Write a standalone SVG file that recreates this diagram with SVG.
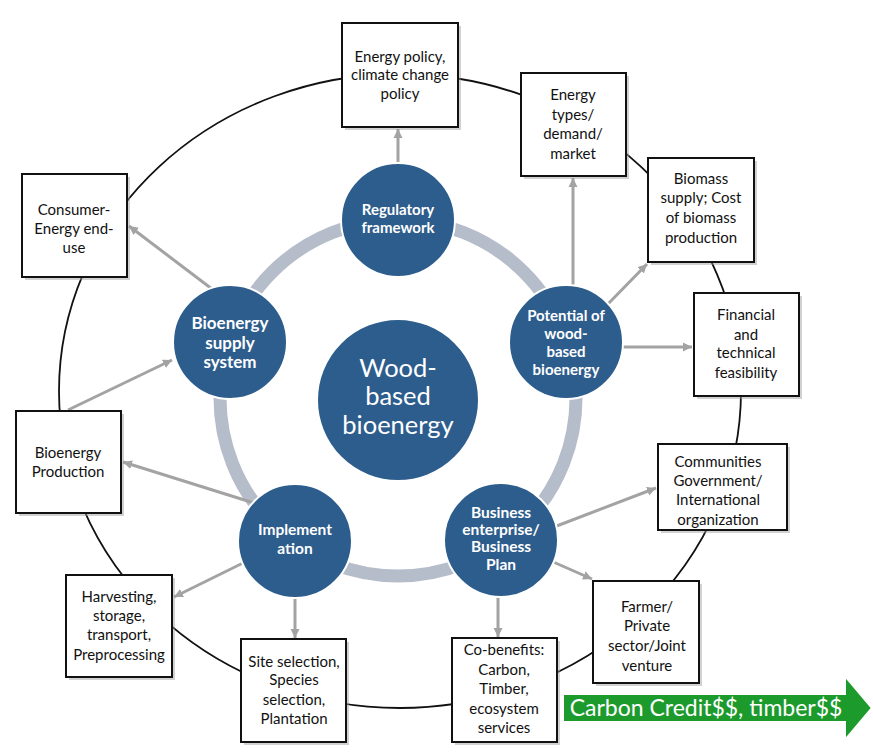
<svg xmlns="http://www.w3.org/2000/svg" width="873" height="753" viewBox="0 0 873 753">
<defs>
<marker id="ah" markerUnits="userSpaceOnUse" markerWidth="10" markerHeight="10" refX="9" refY="5" orient="auto">
<path d="M0,0.5 L9,5 L0,9.5 z" fill="#a3a3a3"/>
</marker>
</defs>
<style>
.bx{fill:#fff;stroke:#111;stroke-width:2}
.sh{fill:#9a9a9a;opacity:0.45}
.bt{font-family:Lato,"Open Sans","Liberation Sans",sans-serif;font-size:15px;fill:#111;text-anchor:middle}
.cc{fill:#2d5d8c;stroke:#fff;stroke-width:2}
.ct{font-family:Lato,"Open Sans","Liberation Sans",sans-serif;font-weight:bold;fill:#fff;text-anchor:middle}
.ar{stroke:#a3a3a3;stroke-width:3;fill:none;marker-end:url(#ah)}
</style>
<rect width="873" height="753" fill="#fff"/>
<g id="connectors">
<ellipse cx="400" cy="391" rx="341" ry="317" fill="none" stroke="#111" stroke-width="1.8"/>
<circle cx="398" cy="398" r="178" fill="none" stroke="#b6bdca" stroke-width="13"/>
<line class="ar" x1="398" y1="166" x2="398" y2="129"/>
<line class="ar" x1="573" y1="288" x2="573" y2="178"/>
<line class="ar" x1="606" y1="306" x2="647" y2="264"/>
<line class="ar" x1="620" y1="347" x2="692" y2="347"/>
<line class="ar" x1="554" y1="527" x2="656" y2="488"/>
<line class="ar" x1="551" y1="561" x2="592" y2="579"/>
<line class="ar" x1="498" y1="594" x2="498" y2="637"/>
<line class="ar" x1="295" y1="596" x2="295" y2="638"/>
<line class="ar" x1="245" y1="562" x2="174" y2="597"/>
<line class="ar" x1="254" y1="503" x2="123" y2="462"/>
<line class="ar" x1="68" y1="410" x2="172" y2="360"/>
<line class="ar" x1="212" y1="289" x2="129" y2="226"/>
</g>
<g id="center">
<circle class="cc" cx="398" cy="400" r="81"/>
<text class="ct" font-size="25.5" style="font-weight:normal"><tspan x="398" y="377">Wood-</tspan><tspan x="398" y="405">based</tspan><tspan x="398" y="434">bioenergy</tspan></text>
</g>
<g id="regulatory">
<circle class="cc" cx="398" cy="220" r="57"/>
<text class="ct" font-size="15"><tspan x="398" y="215">Regulatory</tspan><tspan x="398" y="233">framework</tspan></text>
</g>
<g id="potential">
<circle class="cc" cx="566" cy="342" r="57"/>
<text class="ct" font-size="15"><tspan x="566" y="321">Potential of</tspan><tspan x="566" y="339">wood-</tspan><tspan x="566" y="357">based</tspan><tspan x="566" y="375">bioenergy</tspan></text>
</g>
<g id="business">
<circle class="cc" cx="501" cy="540" r="57"/>
<text class="ct" font-size="15.5"><tspan x="501" y="518">Business</tspan><tspan x="501" y="535">enterprise/</tspan><tspan x="501" y="552">Business</tspan><tspan x="501" y="570">Plan</tspan></text>
</g>
<g id="implementation">
<circle class="cc" cx="295" cy="541" r="57"/>
<text class="ct" font-size="15.5"><tspan x="295" y="535">Implement</tspan><tspan x="295" y="554">ation</tspan></text>
</g>
<g id="supply">
<circle class="cc" cx="230" cy="342" r="57"/>
<text class="ct" font-size="17"><tspan x="230" y="329">Bioenergy</tspan><tspan x="230" y="349">supply</tspan><tspan x="230" y="368">system</tspan></text>
</g>
<g id="b1">
<rect class="sh" x="345" y="26" width="116" height="104"/>
<rect class="bx" x="342" y="23" width="116" height="104"/>
<text class="bt"><tspan x="400" y="62">Energy policy,</tspan><tspan x="400" y="80">climate change</tspan><tspan x="400" y="99">policy</tspan></text>
</g>
<g id="b2">
<rect class="sh" x="524" y="76" width="105" height="103"/>
<rect class="bx" x="521" y="73" width="105" height="103"/>
<text class="bt"><tspan x="573" y="100">Energy</tspan><tspan x="573" y="120">types/</tspan><tspan x="573" y="139">demand/</tspan><tspan x="573" y="159">market</tspan></text>
</g>
<g id="b3">
<rect class="sh" x="651" y="161" width="106" height="104"/>
<rect class="bx" x="648" y="158" width="106" height="104"/>
<text class="bt"><tspan x="701" y="184">Biomass</tspan><tspan x="701" y="203">supply; Cost</tspan><tspan x="701" y="223">of biomass</tspan><tspan x="701" y="243">production</tspan></text>
</g>
<g id="b4">
<rect class="sh" x="697" y="296" width="105" height="103"/>
<rect class="bx" x="694" y="293" width="105" height="103"/>
<text class="bt"><tspan x="746" y="320">Financial</tspan><tspan x="746" y="340">and</tspan><tspan x="746" y="358">technical</tspan><tspan x="746" y="378">feasibility</tspan></text>
</g>
<g id="b5">
<rect class="sh" x="661" y="447" width="129" height="86"/>
<rect class="bx" x="658" y="444" width="129" height="86"/>
<text class="bt"><tspan x="718" y="467">Communities</tspan><tspan x="718" y="486">Government/</tspan><tspan x="718" y="505">International</tspan><tspan x="718" y="525">organization</tspan></text>
</g>
<g id="b6">
<rect class="sh" x="596" y="584" width="106" height="102"/>
<rect class="bx" x="593" y="581" width="106" height="102"/>
<text class="bt"><tspan x="647" y="612">Farmer/</tspan><tspan x="647" y="631">Private</tspan><tspan x="647" y="651">sector/Joint</tspan><tspan x="647" y="671">venture</tspan></text>
</g>
<g id="b7">
<rect class="sh" x="455" y="641" width="105" height="104"/>
<rect class="bx" x="452" y="638" width="105" height="104"/>
<text class="bt"><tspan x="504" y="655">Co-benefits:</tspan><tspan x="504" y="675">Carbon,</tspan><tspan x="504" y="694">Timber,</tspan><tspan x="504" y="714">ecosystem</tspan><tspan x="504" y="733">services</tspan></text>
</g>
<g id="b8">
<rect class="sh" x="244" y="642" width="105" height="103"/>
<rect class="bx" x="241" y="639" width="105" height="103"/>
<text class="bt"><tspan x="294" y="667">Site selection,</tspan><tspan x="294" y="685">Species</tspan><tspan x="294" y="705">selection,</tspan><tspan x="294" y="724">Plantation</tspan></text>
</g>
<g id="b9">
<rect class="sh" x="69" y="578" width="106" height="102"/>
<rect class="bx" x="66" y="575" width="106" height="102"/>
<text class="bt"><tspan x="119" y="602">Harvesting,</tspan><tspan x="119" y="621">storage,</tspan><tspan x="119" y="640">transport,</tspan><tspan x="119" y="660">Preprocessing</tspan></text>
</g>
<g id="b10">
<rect class="sh" x="19" y="414" width="105" height="102"/>
<rect class="bx" x="16" y="411" width="105" height="102"/>
<text class="bt"><tspan x="68" y="458">Bioenergy</tspan><tspan x="68" y="477">Production</tspan></text>
</g>
<g id="b11">
<rect class="sh" x="25" y="177" width="105" height="103"/>
<rect class="bx" x="22" y="174" width="105" height="103"/>
<text class="bt"><tspan x="74" y="215">Consumer-</tspan><tspan x="74" y="234">Energy end-</tspan><tspan x="74" y="253">use</tspan></text>
</g>
<g id="carbon-arrow">
<polygon points="563,694 845,694 845,676 872,708 845,740 845,722 563,722" fill="#1c9a2c" stroke="#fff" stroke-width="2"/>
<text x="706" y="716" font-family="Lato,'Open Sans','Liberation Sans',sans-serif" font-size="23" fill="#fff" text-anchor="middle">Carbon Credit$$, timber$$</text>
</g>
</svg>
